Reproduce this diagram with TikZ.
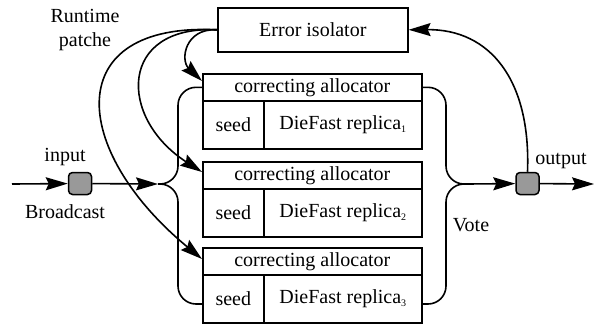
\documentclass[tikz,border=0pt]{standalone}
\usepackage{fontspec}
\setmainfont{Liberation Serif}
\usetikzlibrary{arrows.meta}
\definecolor{portgray}{RGB}{153,153,153}
\newcommand{\repsub}[1]{\raisebox{-3pt}{\fontsize{10}{10}\selectfont #1}}

\begin{document}
\begin{tikzpicture}[x=1pt,y=-1pt,
  line width=1.6pt,
  every node/.style={font=\rmfamily\fontsize{20}{24}\selectfont, inner sep=0pt},
  cell/.style={draw, line width=1.6pt, anchor=north west},
  port/.style={draw, fill=portgray, rounded corners=4pt, minimum width=23pt,
               minimum height=22pt, line width=1.5pt},
  headarrow/.style={-{Stealth[length=22pt 0 0,width=13pt 0 0,inset=3pt]}},
  bus/.style={rounded corners=18pt}]
\useasboundingbox (0,0) rectangle (596,325);

% error isolator
\node[cell, minimum width=190pt, minimum height=44pt] (iso) at (217,7) {Error isolator};

% three replica boxes
\node[cell, minimum width=219pt, minimum height=27pt] (alloc1) at (202,73) {correcting allocator};
\node[cell, minimum width=61pt, minimum height=48pt] (seed1) at (202,100) {seed};
\node[cell, minimum width=158pt, minimum height=48pt] (rep1) at (263,100) {DieFast replica\repsub{1}};

\node[cell, minimum width=219pt, minimum height=27pt] (alloc2) at (202,161) {correcting allocator};
\node[cell, minimum width=61pt, minimum height=48pt] (seed2) at (202,188) {seed};
\node[cell, minimum width=158pt, minimum height=48pt] (rep2) at (263,188) {DieFast replica\repsub{2}};

\node[cell, minimum width=219pt, minimum height=27pt] (alloc3) at (202,247) {correcting allocator};
\node[cell, minimum width=61pt, minimum height=48pt] (seed3) at (202,274) {seed};
\node[cell, minimum width=158pt, minimum height=48pt] (rep3) at (263,274) {DieFast replica\repsub{3}};

% ports
\node[port] (in) at (80,183.5) {};
\node[port] (out) at (527.5,183.5) {};

% helper points
\coordinate (src) at (12,184);
\coordinate (split) at (158,184);
\coordinate (merge) at (467,184);
\coordinate (sink) at (594,184);
\coordinate (busL) at (178,0);
\coordinate (busR) at (446,0);
\coordinate (seed3in) at (202,304);
\coordinate (rep3out) at (421,304);
\coordinate (fix1) at (202,81);
\coordinate (fix2) at (202,172);
\coordinate (fix3) at (202,259);

% labels
\node[align=center] (lblrt) at (85,30) {Runtime\\patche};
\node (lblin) at (65,157) {input};
\node (lblbc) at (65,212) {Broadcast};
\node (lblvote) at (471,225) {Vote};
\node (lblout) at (561,161) {output};

% broadcast
\draw[headarrow] (src) -- (in);
\draw[headarrow] (in) -- (split);
\draw[bus] (split) -| (busL |- alloc1.west) -- (alloc1.west);
\draw[bus] (split) -| (busL |- seed3in) -- (seed3in);

% vote
\draw[bus] (alloc1.east) -| (busR |- merge) -- (merge);
\draw[bus] (rep3out) -| (busR |- merge) -- (merge);
\draw[headarrow] (merge) -- (out);
\draw[headarrow] (out) -- (sink);

% feedback to the isolator
\draw[headarrow] (out.north) .. controls (531,80) and (490,29) .. (iso.east);

% runtime patches
\draw[headarrow] (iso.west) .. controls (185,28) and (180,60) .. (fix1);
\draw[headarrow] (iso.west) .. controls (118,25) and (118,118) .. (fix2);
\draw[headarrow] (iso.west) .. controls (60,22) and (70,150) .. (fix3);
\end{tikzpicture}
\end{document}
